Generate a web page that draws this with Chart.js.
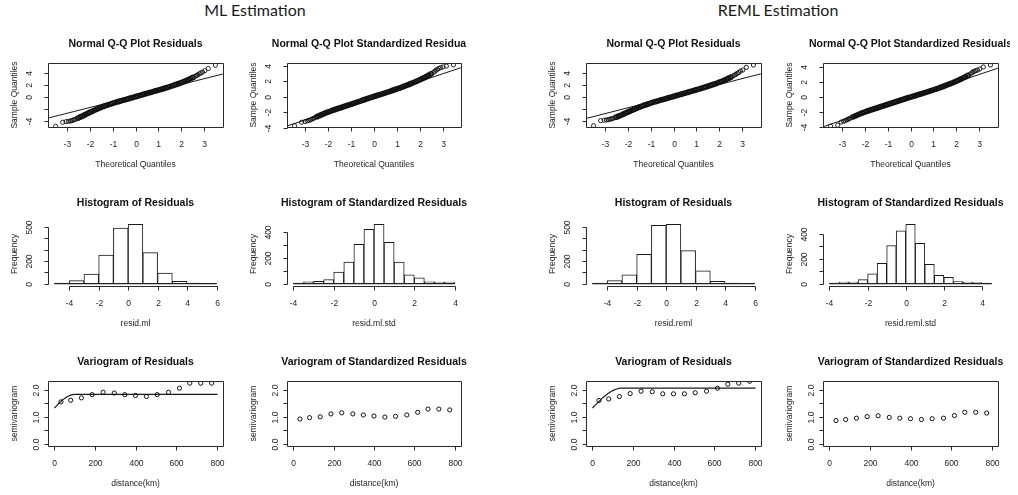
<!DOCTYPE html>
<html>
<head>
<meta charset="utf-8">
<script src="https://cdn.jsdelivr.net/npm/chart.js@4/dist/chart.umd.min.js"></script>
<style>
  body { margin: 0; background: #fff; width: 1018px; height: 495px; position: relative; overflow: hidden; }
  canvas { position: absolute; }
  .head { position: absolute; top: 0; width: 200px; text-align: center; line-height: 20px;
          font-family: Lato, "Open Sans", sans-serif; font-size: 16px; color: #1a1a1a; }
</style>
</head>
<body>
<div class="head" style="left:155px">ML Estimation</div>
<div class="head" style="left:678px">REML Estimation</div>
<script>
// ---- data ----
// theoretical normal quantiles (x of every Q-Q panel)
const theoQ = [-3.48,-3.17,-3.02,-2.92,-2.84,-2.78,-2.72,-2.67,-2.6,
  -2.5,-2.4,-2.3,-2.2,-2.1,-2.0,-1.9,-1.8,-1.7,-1.6,
  -1.5,-1.4,-1.3,-1.2,-1.1,-1.0,-0.9,-0.8,-0.7,-0.6,
  -0.5,-0.4,-0.3,-0.2,-0.1,0,0.1,0.2,0.3,0.4,
  0.5,0.6,0.7,0.8,0.9,1.0,1.1,1.2,1.3,1.4,
  1.5,1.6,1.7,1.8,1.9,2.0,2.1,2.2,2.3,2.4,2.5,
  2.6,2.67,2.72,2.78,2.84,2.92,3.02,3.17,3.48]

const sampML = [-4.9,-4.2,-4.1,-4.05,-4.0,-3.95,-3.85,-3.78,-3.7,
  -3.52,-3.33,-3.15,-2.96,-2.77,-2.58,-2.4,-2.22,-2.05,-1.88,
  -1.72,-1.57,-1.43,-1.3,-1.17,-1.05,-0.93,-0.82,-0.71,-0.6,
  -0.49,-0.38,-0.27,-0.16,-0.05,0.06,0.17,0.28,0.39,0.5,
  0.61,0.72,0.83,0.94,1.05,1.16,1.27,1.38,1.5,1.62,
  1.74,1.87,2.0,2.13,2.27,2.41,2.56,2.72,2.89,3.07,3.26,
  3.46,3.6,3.72,3.86,4.0,4.15,4.4,4.75,5.3]
const sampMLstd = [-3.75,-3.3,-3.2,-3.12,-3.05,-2.98,-2.9,-2.82,-2.72,
  -2.58,-2.45,-2.32,-2.19,-2.07,-1.96,-1.85,-1.75,-1.65,-1.55,
  -1.45,-1.36,-1.26,-1.16,-1.06,-0.96,-0.86,-0.76,-0.66,-0.56,
  -0.46,-0.36,-0.26,-0.16,-0.06,0.03,0.12,0.22,0.31,0.41,
  0.5,0.6,0.7,0.8,0.9,1.0,1.1,1.21,1.32,1.43,
  1.55,1.67,1.79,1.92,2.05,2.18,2.32,2.46,2.61,2.77,2.95,
  3.15,3.3,3.42,3.55,3.65,3.75,3.85,3.95,4.1]
const sampREML = [-4.8,-3.97,-3.9,-3.85,-3.8,-3.75,-3.68,-3.62,-3.55,
  -3.4,-3.24,-3.08,-2.91,-2.74,-2.57,-2.4,-2.23,-2.06,-1.9,
  -1.74,-1.59,-1.45,-1.32,-1.19,-1.06,-0.94,-0.83,-0.72,-0.61,
  -0.5,-0.39,-0.28,-0.17,-0.06,0.05,0.16,0.27,0.38,0.49,
  0.6,0.71,0.82,0.93,1.04,1.15,1.26,1.37,1.49,1.61,
  1.73,1.86,1.99,2.12,2.26,2.4,2.55,2.71,2.88,3.06,3.25,
  3.45,3.6,3.72,3.86,4.0,4.25,4.42,4.87,5.25]
const sampREMLstd = [-3.85,-3.72,-3.3,-3.2,-3.1,-3.02,-2.93,-2.85,-2.75,
  -2.6,-2.47,-2.34,-2.21,-2.09,-1.97,-1.86,-1.76,-1.66,-1.56,
  -1.46,-1.36,-1.26,-1.16,-1.06,-0.96,-0.86,-0.76,-0.66,-0.56,
  -0.46,-0.36,-0.26,-0.16,-0.06,0.03,0.12,0.22,0.31,0.41,
  0.5,0.6,0.7,0.8,0.9,1.0,1.1,1.2,1.31,1.42,
  1.54,1.66,1.78,1.9,2.03,2.16,2.3,2.44,2.59,2.75,2.92,
  3.1,3.25,3.37,3.47,3.55,3.62,3.78,4.05,4.3]

// qqline end points [x..], [y..]
const lineML = [[-3.8, 3.8], [-3.5, 3.83]]
const lineMLstd = [[-3.8, 3.8], [-3.78, 3.74]]
const lineREML = [[-3.8, 3.8], [-3.6, 3.78]]
const lineREMLstd = [[-3.8, 3.8], [-3.92, 3.87]]

// histograms
const midsWide = [-4.5,-3.5,-2.5,-1.5,-0.5,0.5,1.5,2.5,3.5,4.5,5.5]
const brkWide = [-5, 6]
const countML = [4, 26, 84, 253, 491, 523, 273, 93, 20, 5, 3]
const countREML = [4, 26, 78, 259, 514, 523, 291, 113, 20, 5, 3]
const midsMLstd = [-3.75,-3.25,-2.75,-2.25,-1.75,-1.25,-0.75,-0.25,0.25,0.75,1.25,1.75,2.25,2.75,3.25,3.75]
const brkMLstd = [-4, 4]
const countMLstd = [5, 13, 18, 31, 90, 166, 305, 420, 459, 320, 166, 69, 44, 13, 12, 12]
const midsREMLstd = [-3.75,-3.25,-2.75,-2.25,-1.75,-1.25,-0.75,-0.25,0.25,0.75,1.25,1.75,2.25,2.75,3.25,3.75,4.25]
const brkREMLstd = [-4, 4.5]
const countREMLstd = [5, 13, 13, 32, 79, 163, 303, 421, 473, 321, 155, 66, 50, 16, 13, 8, 5]

// variograms
const lagDist = [32, 80, 133, 186, 240, 295, 347, 400, 454, 507, 563, 617, 668, 722, 776]
const gammaML = [1.56, 1.62, 1.71, 1.83, 1.92, 1.89, 1.83, 1.80, 1.76, 1.83, 1.92, 2.07, 2.26, 2.26, 2.26]
const gammaMLstd = [0.92, 0.97, 1.0, 1.11, 1.15, 1.11, 1.07, 1.03, 0.99, 1.02, 1.07, 1.17, 1.29, 1.29, 1.26]
const gammaREML = [1.61, 1.67, 1.76, 1.87, 1.96, 1.94, 1.86, 1.86, 1.86, 1.90, 1.96, 2.07, 2.22, 2.26, 2.33]
const gammaREMLstd = [0.86, 0.90, 0.95, 1.01, 1.04, 0.98, 0.95, 0.93, 0.90, 0.93, 0.95, 1.05, 1.17, 1.17, 1.14]
const fitML = [[0, 10, 20, 30, 40, 50, 60, 70, 80, 90, 100, 805],
               [1.33, 1.41, 1.49, 1.56, 1.63, 1.69, 1.74, 1.78, 1.81, 1.83, 1.84, 1.84]]
const fitREML = [[0, 15, 30, 45, 60, 75, 90, 105, 120, 135, 805],
                 [1.33, 1.45, 1.56, 1.67, 1.77, 1.86, 1.94, 2.0, 2.04, 2.07, 2.07]]

// ticks
const qqXTicks = [-3, -2, -1, 0, 1, 2, 3]
const qqYTicks = [-4, -2, 0, 2, 4]
const histWideTicks = [-4, -2, 0, 2, 4, 6]
const histStdTicks = [-4, -2, 0, 2, 4]
const freqTicksWide = [0, 100, 200, 300, 400, 500]
const freqLabelsWide = ['0', '', '200', '', '', '500']
const freqTicksStd = [0, 100, 200, 300, 400]
const freqLabelsStd = ['0', '', '200', '', '400']
const distTicks = [0, 200, 400, 600, 800]
const gammaTicks = [0, 0.5, 1, 1.5, 2]
const gammaLabels = ['0.0', '', '1.0', '', '2.0']

// ---- drawing ----
const FONT = '"Liberation Sans", Arial, sans-serif'

// R style axes, box and titles drawn from the chart scales
const rAxes = {
    id: 'rAxes',
    afterDraw(chart, args, o) {
        const ctx = chart.ctx, a = chart.chartArea
        const sx = chart.scales.x, sy = chart.scales.y
        const L = Math.round(a.left) + 0.5, R = Math.round(a.right) + 0.5
        const T = Math.round(a.top) + 0.5, B = Math.round(a.bottom) + 0.5
        ctx.save()
        ctx.strokeStyle = '#2a2a2a'
        ctx.fillStyle = '#1e1e1e'
        ctx.lineWidth = 1
        ctx.beginPath()
        if (o.box) ctx.rect(L, T, R - L, B - T)
        const xp = o.xTicks.map(v => Math.round(sx.getPixelForValue(v)) + 0.5)
        const yp = o.yTicks.map(v => Math.round(sy.getPixelForValue(v)) + 0.5)
        ctx.moveTo(xp[0], B); ctx.lineTo(xp[xp.length - 1], B)
        xp.forEach(p => { ctx.moveTo(p, B); ctx.lineTo(p, B + 4) })
        ctx.moveTo(L, yp[0]); ctx.lineTo(L, yp[yp.length - 1])
        yp.forEach(p => { ctx.moveTo(L, p); ctx.lineTo(L - 4, p) })
        ctx.stroke()

        ctx.font = '8.5px ' + FONT
        ctx.textAlign = 'center'
        ctx.textBaseline = 'middle'
        xp.forEach((p, i) => ctx.fillText(String(o.xTicks[i]), p, a.bottom + 18))
        ctx.fillText(o.xTitle, (a.left + a.right) / 2, a.bottom + 38)
        yp.forEach((p, i) => {
            ctx.save()
            ctx.translate(a.left - o.yLabOff, p)
            ctx.rotate(-Math.PI / 2)
            ctx.fillText(o.yLabels[i], 0, 0)
            ctx.restore()
        })
        ctx.save()
        ctx.translate(a.left - 33, (a.top + a.bottom) / 2)
        ctx.rotate(-Math.PI / 2)
        ctx.fillText(o.yTitle, 0, 0)
        ctx.restore()

        ctx.fillStyle = '#111'
        ctx.font = 'bold 10.5px ' + FONT
        ctx.fillText(o.title, (a.left + a.right) / 2 + (o.titleShift || 0), a.top - 19)
        ctx.restore()
    }
}

function pts(xs, ys) {
    return xs.map((x, i) => ({ x: x, y: ys[i] }))
}

function makeChart(box, type, datasets, o) {
    const pad = { left: 50, top: 46, right: 12, bottom: 48 }
    const cv = document.createElement('canvas')
    cv.width = box[2] - box[0] + pad.left + pad.right
    cv.height = box[3] - box[1] + pad.top + pad.bottom
    cv.style.left = (box[0] - pad.left) + 'px'
    cv.style.top = (box[1] - pad.top) + 'px'
    document.body.appendChild(cv)
    return new Chart(cv, {
        type: type,
        data: { datasets: datasets },
        options: {
            responsive: false,
            animation: false,
            devicePixelRatio: 1,
            events: [],
            layout: { padding: pad },
            plugins: { legend: { display: false }, tooltip: { enabled: false }, rAxes: o },
            scales: {
                x: { type: 'linear', display: false, offset: false, min: o.xlim[0], max: o.xlim[1] },
                y: { type: 'linear', display: false, min: o.ylim[0], max: o.ylim[1] }
            }
        },
        plugins: [rAxes]
    })
}

function circles(xs, ys, r, w) {
    return {
        data: pts(xs, ys), pointRadius: r, pointBorderWidth: w,
        pointBorderColor: '#111', pointBackgroundColor: 'rgba(0,0,0,0)'
    }
}

function line(xy, w) {
    return { data: pts(xy[0], xy[1]), showLine: true, pointRadius: 0, borderColor: '#1a1a1a', borderWidth: w }
}

// the middle of a Q-Q cloud holds thousands of overlapping circles: draw those heavier
const qqWidth = ctx => (ctx.dataIndex >= 9 && ctx.dataIndex < theoQ.length - 9) ? 1.6 : 0.9

function qqPanel(box, sample, qline, ylim, yLabels, title, yTitle, titleShift) {
    makeChart(box, 'scatter', [circles(theoQ, sample, 2.1, qqWidth), line(qline, 1)], {
        box: true, xlim: [-3.81, 3.81], ylim: ylim,
        xTicks: qqXTicks, yTicks: qqYTicks, yLabels: yLabels, yLabOff: 18,
        title: title, titleShift: titleShift, xTitle: 'Theoretical Quantiles', yTitle: yTitle
    })
}

function histPanel(box, mids, counts, brk, xlim, ylim, xTicks, yTicks, yLabels, title, xTitle) {
    makeChart(box, 'bar', [
        { type: 'line', data: pts(brk, [0, 0]), borderColor: '#222', borderWidth: 1.2, pointRadius: 0 },
        {
            data: pts(mids, counts), backgroundColor: '#fff', borderColor: '#1a1a1a', borderWidth: 1,
            borderSkipped: false, barPercentage: 1, categoryPercentage: 1
        }
    ], {
        box: false, xlim: xlim, ylim: ylim,
        xTicks: xTicks, yTicks: yTicks, yLabels: yLabels, yLabOff: 18,
        title: title, xTitle: xTitle, yTitle: 'Frequency'
    })
}

function vgPanel(box, gamma, fit, title) {
    const ds = [circles(lagDist, gamma, 2.1, 1)]
    if (fit) ds.push(line(fit, 1.2))
    makeChart(box, 'scatter', ds, {
        box: true, xlim: [-32, 832], ylim: [-0.09, 2.34],
        xTicks: distTicks, yTicks: gammaTicks, yLabels: gammaLabels, yLabOff: 11,
        title: title, xTitle: 'distance(km)', yTitle: 'semivariogram'
    })
}

// plot boxes [left, top, right, bottom]
const C1 = [48, 223], C2 = [287, 461], C3 = [586, 761], C4 = [823, 998]
const R1 = [63, 127], R2 = [222, 286], R3 = [381, 446]
const bx = (c, r) => [c[0], r[0], c[1], r[1]]

qqPanel(bx(C1, R1), sampML, lineML, [-5.0, 5.67], ['-4', '', '0', '2', '4'],
    'Normal Q-Q Plot Residuals', 'Sample Quantiles')
qqPanel(bx(C2, R1), sampMLstd, lineMLstd, [-3.91, 4.35], ['-4', '-2', '0', '2', '4'],
    'Normal Q-Q Plot Standardized Residua', 'Sampe Quantiles', -5)
qqPanel(bx(C3, R1), sampREML, lineREML, [-5.02, 5.58], ['-4', '', '0', '2', '4'],
    'Normal Q-Q Plot Residuals', 'Sample Quantiles')
qqPanel(bx(C4, R1), sampREMLstd, lineREMLstd, [-3.96, 4.57], ['-4', '-2', '0', '2', '4'],
    'Normal Q-Q Plot Standardized Residuals', 'Sampe Quantiles')

histPanel(bx(C1, R2), midsWide, countML, brkWide, [-5.44, 6.44], [-21, 544],
    histWideTicks, freqTicksWide, freqLabelsWide, 'Histogram of Residuals', 'resid.ml')
histPanel(bx(C2, R2), midsMLstd, countMLstd, brkMLstd, [-4.32, 4.32], [-18.4, 477.4],
    histStdTicks, freqTicksStd, freqLabelsStd, 'Histogram of Standardized Residuals', 'resid.ml.std')
histPanel(bx(C3, R2), midsWide, countREML, brkWide, [-5.44, 6.44], [-21, 544],
    histWideTicks, freqTicksWide, freqLabelsWide, 'Histogram of Residuals', 'resid.reml')
histPanel(bx(C4, R2), midsREMLstd, countREMLstd, brkREMLstd, [-4.34, 4.84], [-18.9, 491.9],
    histStdTicks, freqTicksStd, freqLabelsStd, 'Histogram of Standardized Residuals', 'resid.reml.std')

vgPanel(bx(C1, R3), gammaML, fitML, 'Variogram of Residuals')
vgPanel(bx(C2, R3), gammaMLstd, null, 'Variogram of Standardized Residuals')
vgPanel(bx(C3, R3), gammaREML, fitREML, 'Variogram of Residuals')
vgPanel(bx(C4, R3), gammaREMLstd, null, 'Variogram of Standardized Residuals')
</script>
</body>
</html>
